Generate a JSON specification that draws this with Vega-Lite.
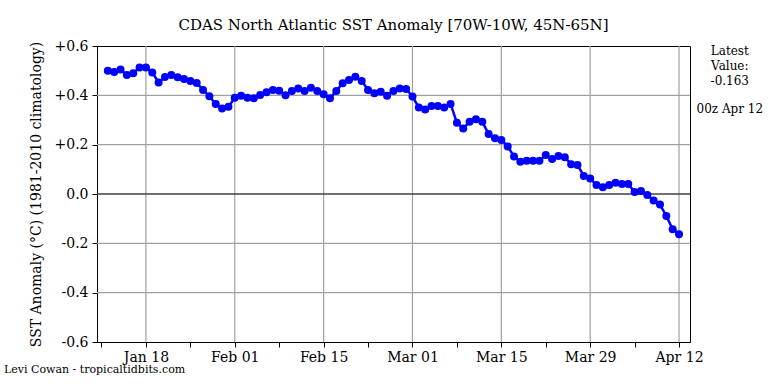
{
  "$schema": "https://vega.github.io/schema/vega-lite/v6.json",
  "width": 593,
  "height": 296,
  "autosize": "none",
  "padding": {"left": 97, "top": 46, "right": 78, "bottom": 42},
  "background": "white",
  "config": {
    "font": "DejaVu Serif",
    "view": {"stroke": "black", "strokeWidth": 1},
    "axis": {"tickColor": "black", "domainColor": "black", "labelColor": "black", "titleColor": "black"}
  },
  "title": {"text": "CDAS North Atlantic SST Anomaly [70W-10W, 45N-65N]", "fontSize": 15, "fontWeight": "normal", "font": "DejaVu Serif", "color": "black", "offset": 6, "anchor": "middle"},
  "layer": [
    {
      "data": {"values": [{"g": -0.4}, {"g": -0.2}, {"g": 0.2}, {"g": 0.4}]},
      "mark": {"type": "rule", "color": "#a0a0a0", "strokeWidth": 1.2, "strokeOpacity": 1},
      "encoding": {"y": {"field": "g", "type": "quantitative"}}
    },
    {
      "data": {"values": [{"d": "2023-01-18"}, {"d": "2023-02-01"}, {"d": "2023-02-15"}, {"d": "2023-03-01"}, {"d": "2023-03-15"}, {"d": "2023-03-29"}, {"d": "2023-04-12"}]},
      "mark": {"type": "rule", "color": "#a0a0a0", "strokeWidth": 1.2, "strokeOpacity": 1},
      "encoding": {"x": {"field": "d", "type": "temporal"}}
    },
    {
      "data": {"values": [{}]},
      "mark": {"type": "rule", "color": "#404040", "strokeWidth": 1.5},
      "encoding": {"y": {"datum": 0, "type": "quantitative"}}
    },
    {
      "data": {"values": [
        {"date": "2023-01-12", "anom": 0.500}, {"date": "2023-01-13", "anom": 0.495}, {"date": "2023-01-14", "anom": 0.505},
        {"date": "2023-01-15", "anom": 0.482}, {"date": "2023-01-16", "anom": 0.490}, {"date": "2023-01-17", "anom": 0.513},
        {"date": "2023-01-18", "anom": 0.513}, {"date": "2023-01-19", "anom": 0.493}, {"date": "2023-01-20", "anom": 0.452},
        {"date": "2023-01-21", "anom": 0.474}, {"date": "2023-01-22", "anom": 0.482}, {"date": "2023-01-23", "anom": 0.473},
        {"date": "2023-01-24", "anom": 0.466}, {"date": "2023-01-25", "anom": 0.458}, {"date": "2023-01-26", "anom": 0.450},
        {"date": "2023-01-27", "anom": 0.422}, {"date": "2023-01-28", "anom": 0.396}, {"date": "2023-01-29", "anom": 0.365},
        {"date": "2023-01-30", "anom": 0.347}, {"date": "2023-01-31", "anom": 0.354}, {"date": "2023-02-01", "anom": 0.390},
        {"date": "2023-02-02", "anom": 0.398}, {"date": "2023-02-03", "anom": 0.390}, {"date": "2023-02-04", "anom": 0.388},
        {"date": "2023-02-05", "anom": 0.401}, {"date": "2023-02-06", "anom": 0.412}, {"date": "2023-02-07", "anom": 0.422},
        {"date": "2023-02-08", "anom": 0.419}, {"date": "2023-02-09", "anom": 0.400}, {"date": "2023-02-10", "anom": 0.418},
        {"date": "2023-02-11", "anom": 0.428}, {"date": "2023-02-12", "anom": 0.418}, {"date": "2023-02-13", "anom": 0.431},
        {"date": "2023-02-14", "anom": 0.418}, {"date": "2023-02-15", "anom": 0.404}, {"date": "2023-02-16", "anom": 0.388},
        {"date": "2023-02-17", "anom": 0.418}, {"date": "2023-02-18", "anom": 0.449}, {"date": "2023-02-19", "anom": 0.462},
        {"date": "2023-02-20", "anom": 0.475}, {"date": "2023-02-21", "anom": 0.458}, {"date": "2023-02-22", "anom": 0.422},
        {"date": "2023-02-23", "anom": 0.408}, {"date": "2023-02-24", "anom": 0.415}, {"date": "2023-02-25", "anom": 0.398},
        {"date": "2023-02-26", "anom": 0.418}, {"date": "2023-02-27", "anom": 0.428}, {"date": "2023-02-28", "anom": 0.426},
        {"date": "2023-03-01", "anom": 0.395}, {"date": "2023-03-02", "anom": 0.351}, {"date": "2023-03-03", "anom": 0.343},
        {"date": "2023-03-04", "anom": 0.357}, {"date": "2023-03-05", "anom": 0.357}, {"date": "2023-03-06", "anom": 0.351},
        {"date": "2023-03-07", "anom": 0.365}, {"date": "2023-03-08", "anom": 0.289}, {"date": "2023-03-09", "anom": 0.266},
        {"date": "2023-03-10", "anom": 0.293}, {"date": "2023-03-11", "anom": 0.303}, {"date": "2023-03-12", "anom": 0.293},
        {"date": "2023-03-13", "anom": 0.243}, {"date": "2023-03-14", "anom": 0.226}, {"date": "2023-03-15", "anom": 0.219},
        {"date": "2023-03-16", "anom": 0.193}, {"date": "2023-03-17", "anom": 0.152}, {"date": "2023-03-18", "anom": 0.131},
        {"date": "2023-03-19", "anom": 0.135}, {"date": "2023-03-20", "anom": 0.135}, {"date": "2023-03-21", "anom": 0.135},
        {"date": "2023-03-22", "anom": 0.158}, {"date": "2023-03-23", "anom": 0.142}, {"date": "2023-03-24", "anom": 0.154},
        {"date": "2023-03-25", "anom": 0.149}, {"date": "2023-03-26", "anom": 0.121}, {"date": "2023-03-27", "anom": 0.118},
        {"date": "2023-03-28", "anom": 0.073}, {"date": "2023-03-29", "anom": 0.063}, {"date": "2023-03-30", "anom": 0.036},
        {"date": "2023-03-31", "anom": 0.027}, {"date": "2023-04-01", "anom": 0.036}, {"date": "2023-04-02", "anom": 0.046},
        {"date": "2023-04-03", "anom": 0.041}, {"date": "2023-04-04", "anom": 0.041}, {"date": "2023-04-05", "anom": 0.008},
        {"date": "2023-04-06", "anom": 0.012}, {"date": "2023-04-07", "anom": -0.004}, {"date": "2023-04-08", "anom": -0.026},
        {"date": "2023-04-09", "anom": -0.043}, {"date": "2023-04-10", "anom": -0.089}, {"date": "2023-04-11", "anom": -0.143},
        {"date": "2023-04-12", "anom": -0.163}
      ]},
      "mark": {"type": "line", "color": "#0000ff", "strokeWidth": 2.5, "point": {"filled": true, "size": 64, "color": "#0000ff", "opacity": 1}},
      "encoding": {
        "x": {
          "field": "date", "type": "temporal",
          "scale": {"type": "utc", "domain": [1673334000000, 1681407000000]},
          "axis": {
            "title": null,
            "grid": false,
            "values": [1673395200000, 1674000000000, 1674604800000, 1675209600000, 1675814400000, 1676419200000, 1677024000000, 1677628800000, 1678233600000, 1678838400000, 1679443200000, 1680048000000, 1680652800000, 1681257600000],
            "labelExpr": "abs((+datum.value - 1674000000000) % 1209600000) < 1000 ? utcFormat(datum.value, '%b %d') : ''",
            "tickSize": 5,
            "labelFont": "DejaVu Serif",
            "labelFontSize": 14,
            "labelPadding": 3,
            "labelFlush": false,
            "labelOverlap": false
          }
        },
        "y": {
          "field": "anom", "type": "quantitative",
          "scale": {"domain": [-0.6, 0.6], "nice": false, "zero": false},
          "axis": {
            "grid": false,
            "values": [-0.6, -0.4, -0.2, 0, 0.2, 0.4, 0.6],
            "labelExpr": "datum.value > 0.001 ? '+' + format(datum.value, '.1f') : (datum.value < -0.001 ? '-' + format(-datum.value, '.1f') : '0.0')",
            "tickSize": 5,
            "labelFont": "DejaVu Serif",
            "labelFontSize": 14,
            "labelPadding": 4,
            "title": "SST Anomaly (°C) (1981-2010 climatology)",
            "titleFont": "DejaVu Serif",
            "titleFontSize": 14,
            "titleFontWeight": "normal",
            "titlePadding": 11
          }
        }
      }
    },
    {
      "data": {"values": [{"label": "Latest\nValue:\n-0.163"}]},
      "mark": {"type": "text", "lineBreak": "\n", "fontSize": 12, "lineHeight": 15, "align": "center", "baseline": "alphabetic", "font": "DejaVu Serif", "color": "black"},
      "encoding": {
        "x": {"datum": {"year": 2023, "month": "apr", "date": 20, "utc": true}, "type": "temporal"},
        "y": {"datum": 0.5635, "type": "quantitative"},
        "text": {"field": "label"}
      }
    },
    {
      "data": {"values": [{"label": "00z Apr 12"}]},
      "mark": {"type": "text", "fontSize": 12, "align": "center", "baseline": "alphabetic", "font": "DejaVu Serif", "color": "black"},
      "encoding": {
        "x": {"datum": {"year": 2023, "month": "apr", "date": 20, "utc": true}, "type": "temporal"},
        "y": {"datum": 0.327, "type": "quantitative"},
        "text": {"field": "label"}
      }
    },
    {
      "data": {"values": [{"label": "Levi Cowan - tropicaltidbits.com"}]},
      "mark": {"type": "text", "fontSize": 11, "align": "left", "baseline": "alphabetic", "font": "DejaVu Serif", "color": "black"},
      "encoding": {
        "x": {"datum": {"year": 2022, "month": "dec", "date": 26, "hours": 15, "utc": true}, "type": "temporal"},
        "y": {"datum": -0.7257, "type": "quantitative"},
        "text": {"field": "label"}
      }
    }
  ]
}
